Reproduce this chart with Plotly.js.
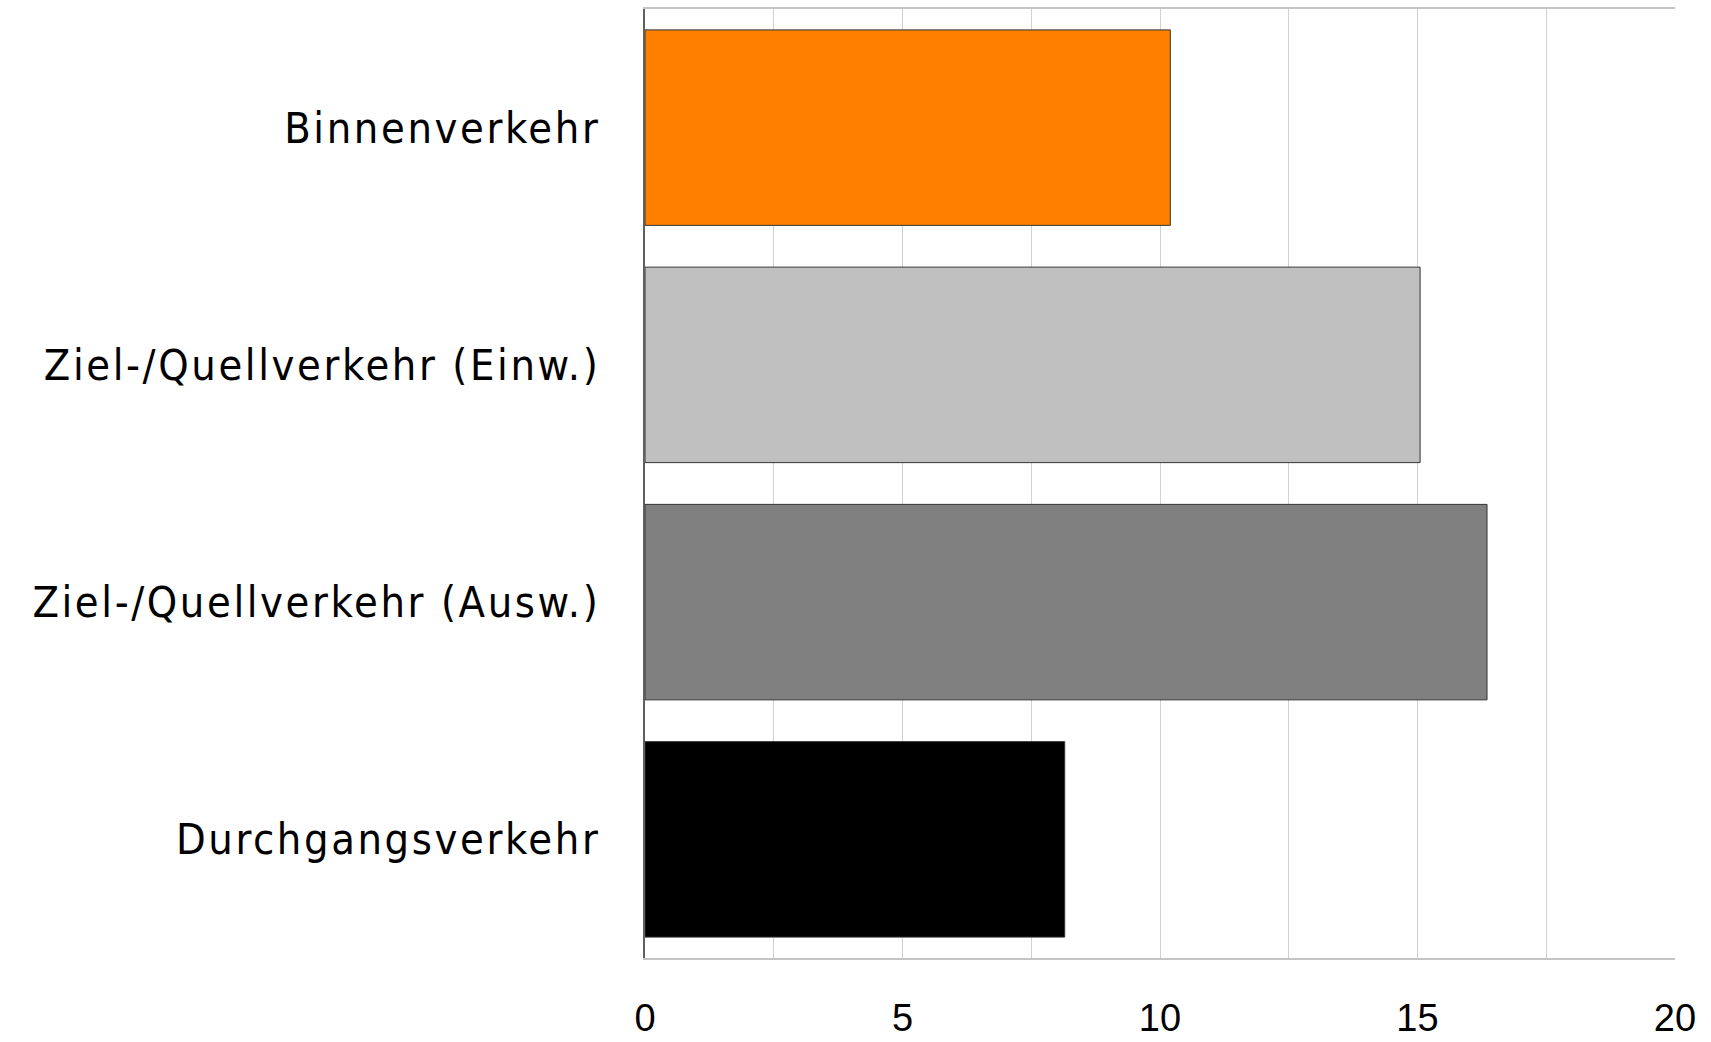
<!DOCTYPE html>
<html>
<head>
<meta charset="utf-8">
<script src="https://cdn.plot.ly/plotly-3.0.1.min.js"></script>
<style>
  html, body { margin: 0; padding: 0; background: #fff; }
  #chart { width: 1711px; height: 1042px; }
  .ytick text { letter-spacing: 2.6px; }
</style>
</head>
<body>
<div id="chart"></div>
<script>
const categories = [
  "Binnenverkehr",
  "Ziel-/Quellverkehr (Einw.)",
  "Ziel-/Quellverkehr (Ausw.)",
  "Durchgangsverkehr"
];
const values = [10.2, 15.05, 16.35, 8.15];
const barColors = ["#FF8000", "#C0C0C0", "#808080", "#000000"];
const xTickVals = [0, 2.5, 5, 7.5, 10, 12.5, 15, 17.5, 20];
const xTickText = ["0", "", "5", "", "10", "", "15", "", "20"];

const trace = {
  type: "bar",
  orientation: "h",
  y: categories,
  x: values,
  marker: {
    color: barColors,
    line: { color: "#333333", width: 1 }
  },
  hoverinfo: "x+y"
};

const layout = {
  width: 1711,
  height: 1042,
  margin: { l: 645, r: 36, t: 9, b: 84 },
  paper_bgcolor: "#ffffff",
  plot_bgcolor: "#ffffff",
  showlegend: false,
  bargap: 0.176,
  xaxis: {
    range: [0, 20],
    tickmode: "array",
    tickvals: xTickVals,
    ticktext: xTickText,
    showgrid: true,
    gridcolor: "#d0d0d0",
    gridwidth: 1,
    zeroline: false,
    showline: true,
    linecolor: "#c4c4c4",
    linewidth: 2,
    mirror: true,
    ticks: "",
    ticklabelstandoff: 25,
    tickfont: { family: "Liberation Sans, Arial, sans-serif", size: 38, color: "#000" }
  },
  yaxis: {
    type: "category",
    categoryorder: "array",
    categoryarray: categories,
    autorange: "reversed",
    showgrid: false,
    zeroline: false,
    showline: true,
    linecolor: "#606060",
    linewidth: 2,
    ticks: "",
    ticklabelstandoff: 34,
    tickfont: { family: "DejaVu Sans Condensed, sans-serif", size: 43, color: "#000" }
  }
};

Plotly.newPlot("chart", [trace], layout, { displayModeBar: false, staticPlot: true });
</script>
</body>
</html>
